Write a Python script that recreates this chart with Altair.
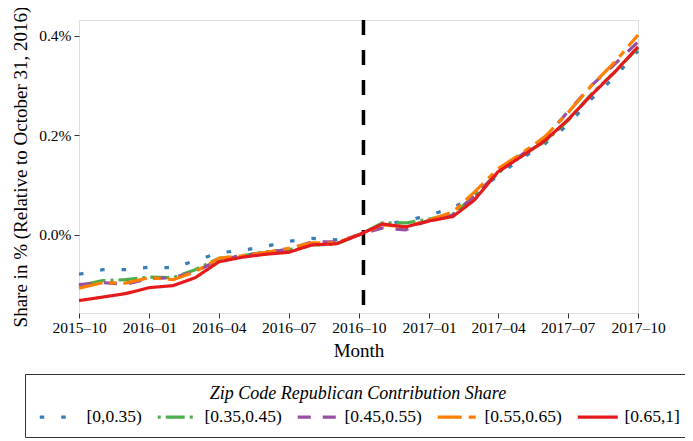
import altair as alt
import pandas as pd

months = ["2015-10", "2015-11", "2015-12", "2016-01", "2016-02", "2016-03", "2016-04",
          "2016-05", "2016-06", "2016-07", "2016-08", "2016-09", "2016-10", "2016-11",
          "2016-12", "2017-01", "2017-02", "2017-03", "2017-04", "2017-05", "2017-06",
          "2017-07", "2017-08", "2017-09", "2017-10"]

groups = ["[0,0.35)", "[0.35,0.45)", "[0.45,0.55)", "[0.55,0.65)", "[0.65,1]"]

share_0_035 = [-0.079, -0.070, -0.070, -0.065, -0.066, -0.052, -0.036, -0.031, -0.023, -0.013,
               -0.007, -0.010, 0.0, 0.021, 0.028, 0.040, 0.054, 0.080, 0.120, 0.153, 0.183,
               0.221, 0.273, 0.318, 0.370]
share_035_045 = [-0.102, -0.092, -0.090, -0.085, -0.086, -0.070, -0.047, -0.042, -0.034, -0.030,
                 -0.020, -0.019, 0.0, 0.024, 0.024, 0.032, 0.042, 0.078, 0.124, 0.161, 0.187,
                 0.229, 0.283, 0.328, 0.376]
share_045_055 = [-0.100, -0.096, -0.099, -0.088, -0.086, -0.074, -0.050, -0.042, -0.035, -0.029,
                 -0.014, -0.014, 0.0, 0.014, 0.010, 0.030, 0.040, 0.078, 0.126, 0.160, 0.195,
                 0.247, 0.300, 0.344, 0.388]
share_055_065 = [-0.107, -0.096, -0.097, -0.086, -0.090, -0.074, -0.047, -0.042, -0.035, -0.027,
                 -0.016, -0.016, 0.0, 0.020, 0.016, 0.030, 0.046, 0.086, 0.133, 0.163, 0.197,
                 0.245, 0.300, 0.348, 0.402]
share_065_1 = [-0.132, -0.125, -0.118, -0.106, -0.102, -0.086, -0.054, -0.045, -0.039, -0.035,
               -0.020, -0.018, 0.0, 0.022, 0.016, 0.028, 0.037, 0.070, 0.127, 0.157, 0.189,
               0.231, 0.281, 0.328, 0.378]

series_values = [share_0_035, share_035_045, share_045_055, share_055_065, share_065_1]

colors = ["#377eb8", "#4daf4a", "#984ea3", "#ff7f00", "#e41a1c"]
dashes = [[4.5, 17], [3, 5, 19, 5], [13, 12], [24, 7, 7, 7], [1, 0]]

x_ticks = ["2015-10", "2016-01", "2016-04", "2016-07", "2016-10", "2017-01", "2017-04",
           "2017-07", "2017-10"]
y_ticks = [0.0, 0.2, 0.4]
event_date = ["2016-10-07"]

FONT = "Liberation Serif"

rows = []
for g, vals in zip(groups, series_values):
    for m, v in zip(months, vals):
        rows.append({"month": m + "-01", "group": g, "share": v})
df = pd.DataFrame(rows)


def dt(s):
    y, m = s.split("-")[:2]
    return alt.DateTime(year=int(y), month=int(m), date=1, utc=True)


x_scale = alt.Scale(type="utc", domain=[dt(months[0]), dt(months[-1])], nice=False)
y_scale = alt.Scale(domain=[-0.157, 0.432], nice=False, zero=False)

legend = alt.Legend(
    orient="none", legendX=-54, legendY=354, direction="horizontal", columns=5,
    title="Zip Code Republican Contribution Share", titleFontStyle="italic",
    titleFontWeight="normal", titleFontSize=18, titleFont=FONT, titleColor="black",
    titleAnchor="middle", titlePadding=5, titleLimit=700,
    labelFont=FONT, labelFontSize=17.5, labelColor="black", labelLimit=300,
    labelExpr="datum.label == '[0,0.35)' ? datum.label + '\u00a0\u00a0\u00a0' : datum.label",
    symbolType="M-4,0H4", symbolSize=100, symbolStrokeWidth=3.2, symbolOffset=15,
    labelOffset=18, columnPadding=9, padding=11, strokeColor="#333333",
    fillColor="white", cornerRadius=0,
)

lines = alt.Chart(df).mark_line(strokeWidth=3.2, strokeCap="butt").encode(
    x=alt.X("month:T", scale=x_scale,
            axis=alt.Axis(values=[dt(t) for t in x_ticks],
                          labelExpr="utcFormat(datum.value, '%Y\u2013%m')",
                          labelOverlap=False, labelFlush=False,
                          title="Month", grid=False, domain=False, tickSize=5,
                          tickColor="#333333", labelPadding=2, titlePadding=6,
                          labelFont=FONT, labelFontSize=15.5, labelColor="black",
                          titleFont=FONT, titleFontSize=19, titleFontWeight="normal",
                          titleColor="black")),
    y=alt.Y("share:Q", scale=y_scale,
            axis=alt.Axis(values=y_ticks,
                          labelExpr="format(datum.value, '.1f') + '%'",
                          title="Share in % (Relative to October 31, 2016)",
                          grid=False, domain=False, tickSize=5, tickColor="#333333",
                          labelPadding=3, titlePadding=8,
                          labelFont=FONT, labelFontSize=15.5, labelColor="black",
                          titleFont=FONT, titleFontSize=19, titleFontWeight="normal",
                          titleColor="black")),
    color=alt.Color("group:N", scale=alt.Scale(domain=groups, range=colors), legend=legend),
    strokeDash=alt.StrokeDash("group:N", scale=alt.Scale(domain=groups, range=dashes),
                              legend=legend),
    order=alt.Order("month:T"),
)

rule = alt.Chart(pd.DataFrame({"date": event_date})).mark_rule(
    color="black", strokeWidth=3.5, strokeDash=[15, 15]
).encode(x=alt.X("date:T", scale=x_scale))

chart = alt.layer(rule, lines).properties(
    width=559, height=293,
    autosize=alt.AutoSizeParams(type="none"),
    padding={"left": 71, "top": 12, "right": 47, "bottom": 128},
).configure_view(stroke="#333333", strokeWidth=1.3).configure(font=FONT)

chart.save("out.html", embed_options={"renderer": "svg", "actions": False})
